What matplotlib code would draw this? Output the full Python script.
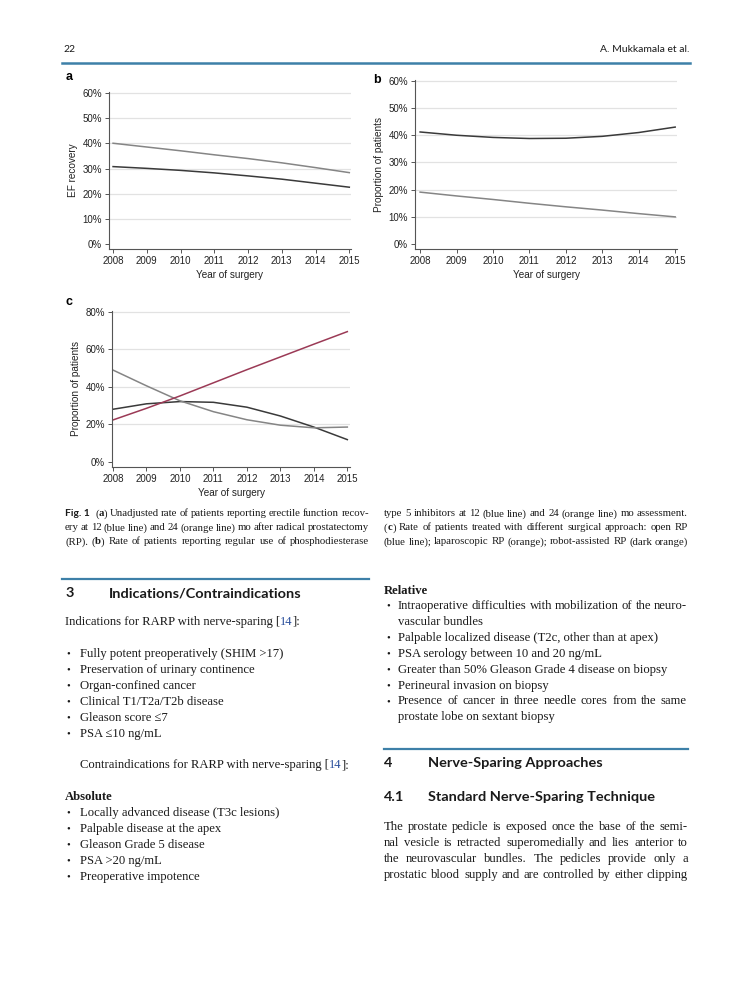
import matplotlib
matplotlib.use("Agg")
import matplotlib.pyplot as plt

W, H = 752, 1000

# ---- chart data ----
years = [2008, 2009, 2010, 2011, 2012, 2013, 2014, 2015]
ef_12mo = [30.8, 30.1, 29.3, 28.3, 27.1, 25.8, 24.2, 22.6]
ef_24mo = [40.1, 38.6, 37.1, 35.5, 34.0, 32.3, 30.4, 28.4]
pde5_12mo = [41.2, 40.0, 39.2, 38.8, 38.9, 39.6, 41.0, 43.0]
pde5_24mo = [19.1, 17.7, 16.4, 15.0, 13.7, 12.5, 11.2, 10.0]
open_rp = [28.1, 31.0, 32.2, 31.8, 29.2, 24.5, 18.6, 11.9]
lap_rp = [49.0, 40.6, 32.6, 26.8, 22.5, 19.6, 18.2, 18.6]
robot_rp = [22.4, 28.6, 35.2, 42.2, 49.2, 56.0, 62.8, 69.5]

ab_yticks = [0, 10, 20, 30, 40, 50, 60]
c_yticks = [0, 20, 40, 60, 80]

DARK = "#3a3a3a"
LIGHT = "#858585"
RED = "#9b3a56"
BLUE = "#3d80a8"
LINK = "#2a4f9c"
INK = "#1a1a1a"

SERIF = "Liberation Serif"
SANS = "Liberation Sans"
HEAD = "Lato"

fig = plt.figure(figsize=(W / 100, H / 100), dpi=100)
renderer = fig.canvas.get_renderer()


def fx(x):
    return x / W


def fy(y):
    return 1 - y / H


def measure(s, props):
    t = fig.text(0, 0, s, **props)
    w = t.get_window_extent(renderer).width
    t.remove()
    return w


def fit_size(text, target, family, weight="normal"):
    return 10 * target / measure(text, dict(fontsize=10, family=family, weight=weight))


BODY = fit_size("Fully potent preoperatively (SHIM >17)", 203, SERIF)
CAP = fit_size("type 5 inhibitors at 12 (blue line) and 24 (orange line) mo assessment.", 302, SERIF)
HSZ = fit_size("Nerve-Sparing Approaches", 174, HEAD, "bold")


def px_axes(left, right, top, bottom):
    return fig.add_axes([fx(left), fy(bottom), (right - left) / W, (bottom - top) / H])


def style_axes(ax, xlim, ylim, yticks, ylabel, letter, letter_xy):
    ax.set_xlim(*xlim)
    ax.set_ylim(*ylim)
    for s in ["top", "right"]:
        ax.spines[s].set_visible(False)
    for s in ["left", "bottom"]:
        ax.spines[s].set_color("#555555")
        ax.spines[s].set_linewidth(0.8)
    ax.set_xticks(years)
    ax.set_xticklabels([str(y) for y in years], fontsize=7, family=SANS, color="#222222")
    ax.set_yticks(yticks)
    ax.set_yticklabels([f"{v}%" for v in yticks], fontsize=7, family=SANS, color="#222222")
    ax.tick_params(direction="out", length=3, width=0.7, color="#555555", pad=2)
    for v in yticks[1:]:
        ax.axhline(v, color="#e2e2e2", lw=0.9, zorder=0)
    ax.set_xlabel("Year of surgery", fontsize=7.2, family=SANS, color="#222222", labelpad=3)
    ax.set_ylabel(ylabel, fontsize=7.2, family=SANS, color="#222222", labelpad=3)
    fig.text(fx(letter_xy[0]), fy(letter_xy[1]), letter, fontsize=9, family=SANS,
             weight="bold", ha="left", va="center")


# ---- panel a ----
ax_a = px_axes(109, 351, 92, 249)
ax_a.plot(years, ef_24mo, color=LIGHT, lw=1.1)
ax_a.plot(years, ef_12mo, color=DARK, lw=1.1)
style_axes(ax_a, (2007.88, 2015.05), (-2, 60.5), ab_yticks, "EF recovery", "a", (66, 77))

# ---- panel b ----
ax_b = px_axes(415, 677, 80, 249)
ax_b.plot(years, pde5_12mo, color=DARK, lw=1.1)
ax_b.plot(years, pde5_24mo, color=LIGHT, lw=1.1)
style_axes(ax_b, (2007.86, 2015.05), (-1.8, 60.3), ab_yticks, "Proportion of patients", "b", (373, 80))

# ---- panel c ----
ax_c = px_axes(112, 350, 311, 467)
ax_c.plot(years, open_rp, color=DARK, lw=1.1)
ax_c.plot(years, lap_rp, color=LIGHT, lw=1.1)
ax_c.plot(years, robot_rp, color=RED, lw=1.1)
style_axes(ax_c, (2007.97, 2015.08), (-2.7, 80.5), c_yticks, "Proportion of patients", "c", (66, 302))


# ---- page text helpers ----
def parse(text, base):
    # '*' toggles bold, '#' toggles link colour
    segs, cur, bold, blue = [], "", False, False
    for ch in text:
        if ch in "*#":
            if cur:
                segs.append((cur, bold, blue))
            cur = ""
            if ch == "*":
                bold = not bold
            else:
                blue = not blue
        else:
            cur += ch
    if cur:
        segs.append((cur, bold, blue))
    out = []
    for s, b, bl in segs:
        p = dict(base)
        if b:
            p["weight"] = "bold"
        if bl:
            p["color"] = LINK
        out.append((s, p))
    return out


def put_segments(x, y, segs):
    for s, p in segs:
        fig.text(fx(x), fy(y), s, ha="left", va="center", **p)
        x += measure(s, p)


def line(x0, y, text, x1=None, size=None, family=SERIF, color=INK):
    base = dict(fontsize=size or BODY, family=family, color=color)
    if x1 is None:
        put_segments(x0, y, parse(text, base))
        return
    words = [parse(w, base) for w in text.split(" ")]
    widths = [sum(measure(s, p) for s, p in w) for w in words]
    gap = (x1 - x0 - sum(widths)) / (len(words) - 1)
    x = x0
    for w, wd in zip(words, widths):
        put_segments(x, y, w)
        x += wd + gap


def bullet(xb, xt, y, text, x1=None):
    fig.text(fx(xb), fy(y), "\u2022", fontsize=BODY * 0.85, family=SERIF, color=INK,
             ha="left", va="center")
    line(xt, y, text, x1)


def heading(xn, xt, y, num, title):
    fig.text(fx(xn), fy(y), num, fontsize=HSZ, family=HEAD, weight="bold", color=INK,
             ha="left", va="center")
    fig.text(fx(xt), fy(y), title, fontsize=HSZ, family=HEAD, weight="bold", color=INK,
             ha="left", va="center")


def rule(x0, x1, y, lw=1.6):
    fig.add_artist(plt.Line2D([fx(x0), fx(x1)], [fy(y), fy(y)], color=BLUE, lw=lw))


# ---- running head ----
fig.text(fx(63), fy(50), "22", fontsize=7.5, family=HEAD, color=INK, ha="left", va="center")
fig.text(fx(689), fy(50), "A. Mukkamala et al.", fontsize=7.5, family=HEAD, color=INK,
         ha="right", va="center")
rule(62, 690, 63, lw=1.8)

# ---- caption ----
fig.text(fx(65), fy(514), "Fig. 1", fontsize=CAP * 0.95, family=HEAD, weight="bold", color=INK,
         ha="left", va="center")
line(95, 514, "(*a*) Unadjusted rate of patients reporting erectile function recov-", 369, size=CAP)
line(65, 528, "ery at 12 (blue line) and 24 (orange line) mo after radical prostatectomy", 369, size=CAP)
line(65, 542, "(RP). (*b*) Rate of patients reporting regular use of phosphodiesterase", 369, size=CAP)
line(384, 514, "type 5 inhibitors at 12 (blue line) and 24 (orange line) mo assessment.", 688, size=CAP)
line(384, 528, "(*c*) Rate of patients treated with different surgical approach: open RP", 688, size=CAP)
line(384, 542, "(blue line); laparoscopic RP (orange); robot-assisted RP (dark orange)", 688, size=CAP)

# ---- left column ----
STEP = 15.9
rule(62, 369, 579)
heading(66, 109, 593, "3", "Indications/Contraindications")
line(65, 622, "Indications for RARP with nerve-sparing [#14#]:")
left_bullets = [
    "Fully potent preoperatively (SHIM >17)",
    "Preservation of urinary continence",
    "Organ-confined cancer",
    "Clinical T1/T2a/T2b disease",
    "Gleason score \u22647",
    "PSA \u226410 ng/mL",
]
for i, t in enumerate(left_bullets):
    bullet(66, 80, 654 + i * STEP, t)
line(80, 765, "Contraindications for RARP with nerve-sparing [#14#]:")
line(65, 797, "*Absolute*")
abs_bullets = [
    "Locally advanced disease (T3c lesions)",
    "Palpable disease at the apex",
    "Gleason Grade 5 disease",
    "PSA >20 ng/mL",
    "Preoperative impotence",
]
for i, t in enumerate(abs_bullets):
    bullet(66, 80, 813 + i * STEP, t)

# ---- right column ----
line(384, 591, "*Relative*")
bullet(386, 398, 606, "Intraoperative difficulties with mobilization of the neuro-", 687)
line(398, 622, "vascular bundles")
right_bullets = [
    "Palpable localized disease (T2c, other than at apex)",
    "PSA serology between 10 and 20 ng/mL",
    "Greater than 50% Gleason Grade 4 disease on biopsy",
    "Perineural invasion on biopsy",
]
for i, t in enumerate(right_bullets):
    bullet(386, 398, 638 + i * STEP, t)
bullet(386, 398, 701.5, "Presence of cancer in three needle cores from the same", 687)
line(398, 717, "prostate lobe on sextant biopsy")

rule(384, 688, 749)
heading(384, 428, 763, "4", "Nerve-Sparing Approaches")
heading(384, 428, 797, "4.1", "Standard Nerve-Sparing Technique")
para = [
    "The prostate pedicle is exposed once the base of the semi-",
    "nal vesicle is retracted superomedially and lies anterior to",
    "the neurovascular bundles. The pedicles provide only a",
    "prostatic blood supply and are controlled by either clipping",
]
for i, t in enumerate(para):
    line(384, 827 + i * STEP, t, 688)

fig.savefig("out.png", dpi=100)
